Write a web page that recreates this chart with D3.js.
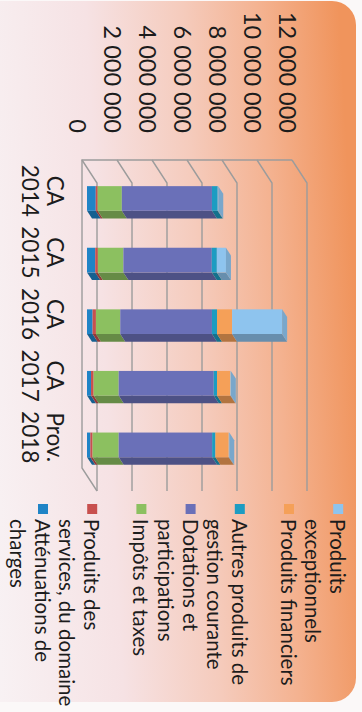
<!DOCTYPE html>
<html><head><meta charset="utf-8">
<script src="https://cdn.jsdelivr.net/npm/d3@7"></script>
<style>html,body{margin:0;padding:0;background:#fbf8f8;} svg{display:block;}</style>
</head><body>
<svg id="c" width="362" height="712"></svg>
<script>
// ---------- data ----------
const categories = [["CA","2014"],["CA","2015"],["CA","2016"],["CA","2017"],["Prov.","2018"]];
const seriesNames = ["Atténuations de charges","Produits des services, du domaine","Impôts et taxes","Dotations et participations","Autres produits de gestion courante","Produits financiers","Produits exceptionnels"];
const legendLines = [["Atténuations de","charges"],["Produits des","services, du domaine"],["Impôts et taxes"],["Dotations et","participations"],["Autres produits de","gestion courante"],["Produits financiers"],["Produits","exceptionnels"]];
const attenuations          = [500000, 470000, 320000, 230000, 190000];
const produitsServices      = [110000, 150000, 190000, 150000, 130000];
const impots                = [1380000,1460000,1390000,1430000,1490000];
const dotations             = [5150000,5050000,5240000,5430000,5340000];
const autresProduits        = [330000, 290000, 290000, 190000, 190000];
const produitsFinanciers    = [0, 0, 860000, 760000, 760000];
const produitsExceptionnels = [30000, 520000, 2860000, 30000, 30000];
const tickValues = [0,2000000,4000000,6000000,8000000,10000000,12000000];
const tickLabels = ["0","2 000 000","4 000 000","6 000 000","8 000 000","10 000 000","12 000 000"];
const colors = ["#1f84c6","#c8504e","#8cc060","#6a70b8","#1c9cc2","#f5a058","#8ec4ee"];

const seriesValues = [attenuations,produitsServices,impots,dotations,autresProduits,produitsFinanciers,produitsExceptionnels];
const rows = categories.map((c,i)=>{const r={cat:i}; seriesValues.forEach((s,k)=>r["s"+k]=s[i]); return r;});
const keys = seriesValues.map((s,k)=>"s"+k);
const stacked = d3.stack().keys(keys)(rows);

// ---------- layout ----------
const svg = d3.select("#c");
const FONT = "Lato, 'Open Sans', sans-serif";
const defs = svg.append("defs");
const grad = defs.append("linearGradient").attr("id","bg").attr("x1","0").attr("y1","0.55").attr("x2","1").attr("y2","0.45");
[[0,"#f8f3f5"],[0.35,"#f6e2e4"],[0.6,"#f5cbbc"],[0.8,"#f4b290"],[1,"#f0945c"]].forEach(([o,c])=>grad.append("stop").attr("offset",o).attr("stop-color",c));
svg.append("rect").attr("x",-30).attr("y",1).attr("width",386).attr("height",701).attr("rx",24).attr("fill","url(#bg)");

const x = d3.scaleLinear().domain([0,12000000]).range([82,292]);
const y = d3.scaleBand().domain(d3.range(categories.length)).range([160,468]).padding(0);
const D = [15,23];          // depth vector (front -> back)
const f0 = 1/3, f1 = 2/3;   // bar depth fraction
const barW = y.bandwidth()*0.4;
const gridColor = "#9c9c9c";

const grid = svg.append("g").attr("stroke",gridColor).attr("stroke-width",1.4).attr("fill","none");
tickValues.forEach(v=>{
  const xf = x(v);
  grid.append("path").attr("d",`M${xf},160 L${xf+D[0]},${160+D[1]} L${xf+D[0]},${468+D[1]}`);
});
grid.append("path").attr("d",`M${x(12000000)},160 L82,160 L82,468 L${82+D[0]},${468+D[1]}`);

// value labels
svg.append("g").selectAll("text").data(tickValues).join("text")
  .attr("transform",(v)=>`translate(${x(v)-4},133) rotate(90)`)
  .attr("text-anchor","end").attr("dominant-baseline","central")
  .attr("font-family",FONT).attr("font-size",23.5).attr("fill","#1c1c1c")
  .text((v,i)=>tickLabels[i]);

// category labels
const cl = svg.append("g").selectAll("g").data(categories).join("g")
  .attr("transform",(c,i)=>`translate(55,${y(i)+y.bandwidth()/2}) rotate(90)`);
cl.selectAll("text").data(d=>d).join("text")
  .attr("x",0).attr("y",(d,j)=>j*25).attr("text-anchor","middle").attr("dominant-baseline","central")
  .attr("font-family",FONT).attr("font-size",22.5).attr("fill","#1c1c1c").text(d=>d);

// bars
const bars = svg.append("g");
categories.forEach((c,i)=>{
  const yt = y(i)+y.bandwidth()/2 - barW/2 + D[1]*f0;
  const yb = yt + barW;
  const dx = D[0]*f0, ddx = D[0]*(f1-f0), ddy = D[1]*(f1-f0);
  let top = null;
  stacked.forEach((s,k)=>{
    const [v0,v1] = s[i];
    if (v1-v0 <= 0) return;
    const xa = x(v0)+dx, xb = x(v1)+dx;
    const col = d3.color(colors[k]);
    bars.append("path").attr("d",`M${xa},${yb} L${xb},${yb} L${xb+ddx},${yb+ddy} L${xa+ddx},${yb+ddy} Z`)
      .attr("fill",col.darker(0.9));
    bars.append("rect").attr("x",xa).attr("y",yt).attr("width",xb-xa).attr("height",barW).attr("fill",colors[k]);
    top = {xb,k};
  });
  if (top){
    const col = d3.color(colors[top.k]);
    bars.append("path").attr("d",`M${top.xb},${yt} L${top.xb+ddx},${yt+ddy} L${top.xb+ddx},${yb+ddy} L${top.xb},${yb} Z`)
      .attr("fill",col.darker(0.45));
  }
});

// legend
const lg = svg.append("g").selectAll("g").data(seriesNames).join("g")
  .attr("transform",(d,i)=>`translate(${43+i*49.2},0)`);
lg.append("rect").attr("x",-5).attr("y",504).attr("width",10).attr("height",10).attr("fill",(d,i)=>colors[i]);
lg.each(function(d,i){
  d3.select(this).append("g").attr("transform","translate(0,519) rotate(90)")
    .selectAll("text").data(legendLines[i]).join("text")
    .attr("x",0).attr("y",(t,j)=>j*25).attr("dominant-baseline","central")
    .attr("font-family",FONT).attr("font-size",20.5).attr("fill","#1c1c1c").text(t=>t);
});
</script>
</body></html>
